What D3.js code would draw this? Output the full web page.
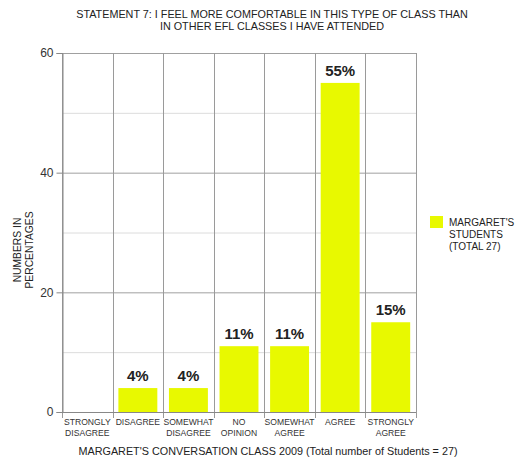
<!DOCTYPE html>
<html>
<head>
<meta charset="utf-8">
<script src="https://cdn.jsdelivr.net/npm/d3@7"></script>
<style>
  html, body { margin: 0; padding: 0; background: #fff; }
  svg { display: block; font-family: "Liberation Sans", Arial, sans-serif; }
</style>
</head>
<body>
<svg id="chart" width="518" height="460"></svg>
<script>
// Survey responses for statement 7 (percent of students)
const categories = [
  ["STRONGLY", "DISAGREE"],
  ["DISAGREE"],
  ["SOMEWHAT", "DISAGREE"],
  ["NO", "OPINION"],
  ["SOMEWHAT", "AGREE"],
  ["AGREE"],
  ["STRONGLY", "AGREE"]
];
const values = [0, 4, 4, 11, 11, 55, 15];
const valueLabels = ["", "4%", "4%", "11%", "11%", "55%", "15%"];
const yTicks = [0, 20, 40, 60];
const yMinorTicks = [10, 30, 50];
const titleLines = [
  "STATEMENT 7: I FEEL MORE COMFORTABLE IN THIS TYPE OF CLASS THAN",
  "IN OTHER EFL CLASSES I HAVE ATTENDED"
];
const xTitle = "MARGARET'S CONVERSATION CLASS 2009 (Total number of Students = 27)";
const yTitleLines = ["NUMBERS IN", "PERCENTAGES"];
const legendLines = ["MARGARET'S", "STUDENTS", "(TOTAL 27)"];

const barColor = "#e8f900";
const margin = { left: 62, right: 102, top: 53, bottom: 48 };
const width = 518, height = 460;

const svg = d3.select("#chart");

const keys = categories.map((d, i) => i);
const x = d3.scaleBand().domain(keys)
  .range([margin.left, width - margin.right])
  .paddingInner(0.23).paddingOuter(0.115);
const xEdge = d3.scaleLinear().domain([0, categories.length])
  .range([margin.left, width - margin.right]);
const y = d3.scaleLinear().domain([0, 60]).range([height - margin.bottom, margin.top]);

// Minor horizontal gridlines
svg.append("g").selectAll("line").data(yMinorTicks).join("line")
  .attr("x1", margin.left).attr("x2", width - margin.right)
  .attr("y1", d => y(d) + 0.5).attr("y2", d => y(d) + 0.5)
  .attr("stroke", "#dcdcdc").attr("stroke-width", 1);

// Major horizontal gridlines
svg.append("g").selectAll("line").data(yTicks.filter(d => d > 0)).join("line")
  .attr("x1", margin.left).attr("x2", width - margin.right)
  .attr("y1", d => y(d) + 0.5).attr("y2", d => y(d) + 0.5)
  .attr("stroke", "#a0a0a0").attr("stroke-width", 1);

// Vertical category separators (extend below the baseline as ticks)
svg.append("g").selectAll("line").data(d3.range(categories.length + 1)).join("line")
  .attr("x1", d => Math.round(xEdge(d)) + 0.5).attr("x2", d => Math.round(xEdge(d)) + 0.5)
  .attr("y1", margin.top).attr("y2", y(0) + 6)
  .attr("stroke", "#9a9a9a").attr("stroke-width", 1);

// Bars
svg.append("g").selectAll("rect").data(values).join("rect")
  .attr("x", (d, i) => x(i))
  .attr("width", x.bandwidth())
  .attr("y", d => y(d))
  .attr("height", d => y(0) - y(d))
  .attr("fill", barColor);

// Baseline
svg.append("line")
  .attr("x1", margin.left).attr("x2", width - margin.right)
  .attr("y1", y(0) + 0.5).attr("y2", y(0) + 0.5)
  .attr("stroke", "#888");

// Y axis
const yAxis = d3.axisLeft(y).tickValues(yTicks).tickSize(6).tickPadding(3);
const gy = svg.append("g")
  .attr("transform", `translate(${margin.left + 0.5},0)`)
  .call(yAxis);
gy.select(".domain").attr("stroke", "#888");
gy.selectAll(".tick line").attr("stroke", "#888");
gy.selectAll(".tick text")
  .attr("font-size", 12).attr("fill", "#333")
  .attr("font-family", "Liberation Sans, Arial, sans-serif");

// Value labels
svg.append("g").selectAll("text").data(values).join("text")
  .attr("x", (d, i) => x(i) + x.bandwidth() / 2)
  .attr("y", d => y(d) - 7)
  .attr("text-anchor", "middle")
  .attr("font-size", 15).attr("font-weight", "bold").attr("fill", "#222")
  .text((d, i) => valueLabels[i]);

// Category labels
const catG = svg.append("g").selectAll("text").data(categories).join("text")
  .attr("text-anchor", "middle")
  .attr("font-size", 8.6).attr("fill", "#333")
  .attr("transform", (d, i) => `translate(${xEdge(i + 0.5)},${y(0) + 13})`);
catG.selectAll("tspan").data(d => d).join("tspan")
  .attr("x", 0).attr("dy", (d, j) => j === 0 ? 0 : 11)
  .text(d => d);

// Title
svg.append("g").selectAll("text").data(titleLines).join("text")
  .attr("x", 272).attr("y", (d, i) => 18 + i * 12)
  .attr("text-anchor", "middle")
  .attr("font-size", 10.8).attr("fill", "#222")
  .text(d => d);

// X axis title
svg.append("text")
  .attr("x", 268).attr("y", 455)
  .attr("text-anchor", "middle")
  .attr("font-size", 10.8).attr("fill", "#222")
  .text(xTitle);

// Y axis title
svg.append("g").attr("transform", "translate(21,250) rotate(-90)")
  .selectAll("text").data(yTitleLines).join("text")
  .attr("x", 0).attr("y", (d, i) => i * 12)
  .attr("text-anchor", "middle")
  .attr("font-size", 10.3).attr("fill", "#222")
  .text(d => d);

// Legend
const legend = svg.append("g").attr("transform", "translate(430,216)");
legend.append("rect").attr("width", 13).attr("height", 12).attr("fill", barColor);
legend.selectAll("text").data(legendLines).join("text")
  .attr("x", 19).attr("y", (d, i) => 10 + i * 12)
  .attr("font-size", 10).attr("fill", "#222")
  .text(d => d);
</script>
</body>
</html>
